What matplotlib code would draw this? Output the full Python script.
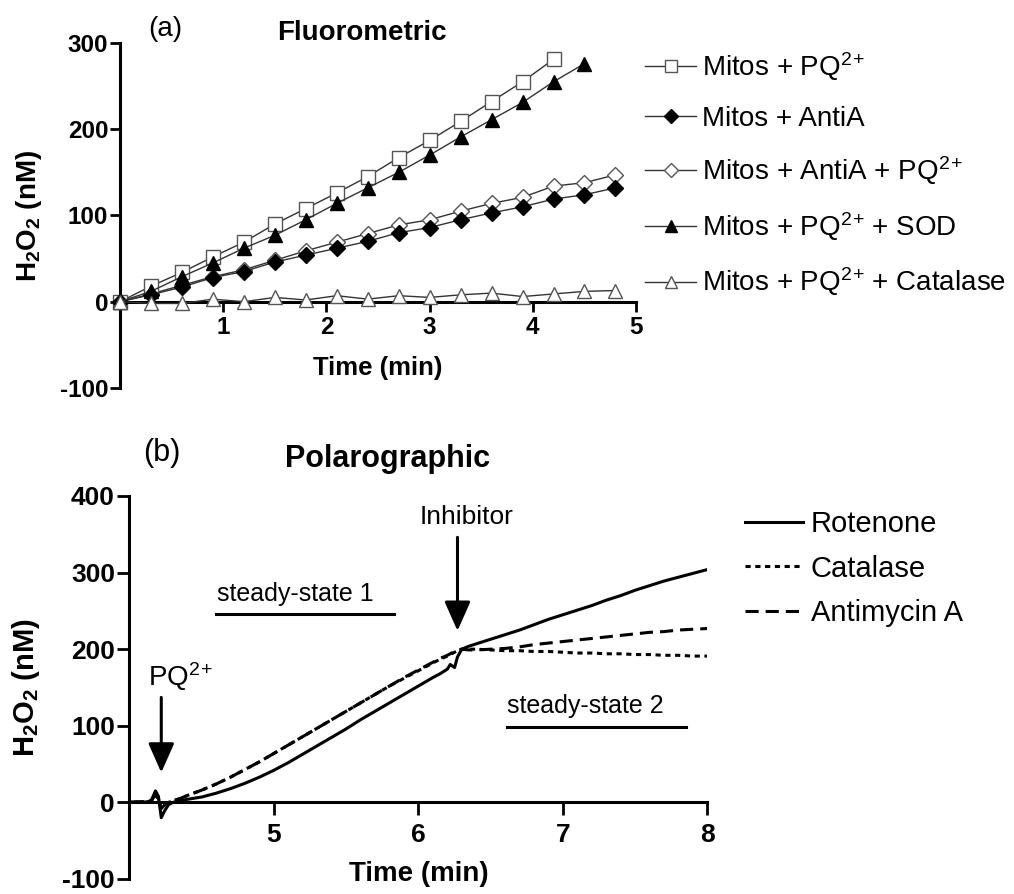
import matplotlib
matplotlib.use("Agg")
from matplotlib import pyplot as plt

plt.rcParams['font.family'] = ['Liberation Sans', 'DejaVu Sans']
plt.rcParams['mathtext.fontset'] = 'custom'
plt.rcParams['mathtext.rm'] = 'Liberation Sans'
plt.rcParams['mathtext.it'] = 'Liberation Sans:italic'
plt.rcParams['mathtext.bf'] = 'Liberation Sans:bold'
plt.rcParams['axes.unicode_minus'] = False

# ---- panel (a): fluorometric, sampled every 0.3 min
t_a = [0.0, 0.3, 0.6, 0.9, 1.2, 1.5, 1.8, 2.1, 2.4, 2.7, 3.0, 3.3, 3.6, 3.9, 4.2, 4.5, 4.8]
pq = [0, 18, 34, 52, 69, 90, 108, 126, 145, 167, 187, 209, 232, 255, 281]
antia = [0, 8, 17, 28, 35, 46, 54, 62, 70, 80, 86, 95, 103, 110, 119, 124, 132]
antia_pq = [0, 9, 19, 29, 37, 48, 59, 69, 79, 89, 95, 105, 114, 121, 134, 138, 147]
pq_sod = [0, 12, 29, 45, 62, 77, 95, 114, 132, 150, 170, 191, 211, 231, 255, 276]
pq_cat = [0, -2, -2, 3, 0, 5, 2, 7, 3, 7, 5, 8, 10, 6, 9, 12, 13]

# ---- panel (b): polarographic traces
t_b = [4.00, 4.05, 4.10, 4.15, 4.18, 4.20, 4.22, 4.24, 4.27, 4.30, 4.35, 4.40,
       4.50, 4.60, 4.70, 4.80, 4.90, 5.00, 5.10, 5.20, 5.30, 5.40, 5.50, 5.60,
       5.70, 5.80, 5.90, 6.00, 6.10, 6.15, 6.20, 6.22, 6.25, 6.27, 6.30, 6.35,
       6.40, 6.50, 6.60, 6.70, 6.80, 6.90, 7.00, 7.10, 7.20, 7.30, 7.40, 7.50,
       7.60, 7.70, 7.80, 7.90, 8.00]
rotenone = [0, 1, 0, 2, 15, 8, -20, -12, -3, 0, 2, 4,
            7, 12, 18, 25, 33, 42, 52, 63, 74, 85, 96, 108,
            119, 130, 141, 152, 163, 168, 174, 180, 176, 190, 200, 204,
            207, 213, 219, 225, 232, 239, 245, 251, 257, 264, 270, 277,
            283, 289, 294, 299, 304]
catalase = [0, 0, 1, 2, 9, 5, -7, -4, 0, 2, 5, 9,
            16, 24, 33, 43, 53, 64, 75, 86, 97, 108, 119, 130,
            141, 152, 162, 172, 182, 187, 191, 193, 196, 198, 200, 200,
            200, 199, 198, 198, 197, 197, 196, 195, 195, 194, 194, 193,
            193, 192, 192, 191, 191]
antimycin = [0, 0, 1, 2, 10, 5, -8, -4, 0, 2, 5, 9,
             16, 24, 33, 43, 53, 64, 75, 86, 97, 108, 119, 130,
             141, 152, 163, 173, 183, 188, 192, 194, 197, 199, 200, 199,
             199, 200, 201, 203, 206, 208, 210, 212, 214, 216, 218, 220,
             222, 223, 225, 226, 227]

PQ = r'PQ$^{2}$$^{+}$'
H2O2 = r'H$_\mathbf{2}$O$_\mathbf{2}$ (nM)'

fig = plt.figure(figsize=(10.14, 8.94), dpi=100)


def style_axes(ax, fs_tick, pad_x, tick_len):
    for s in ['top', 'right']:
        ax.spines[s].set_visible(False)
    ax.spines['bottom'].set_position(('data', 0))
    for s in ['left', 'bottom']:
        ax.spines[s].set_linewidth(2.2)
    ax.tick_params(direction='out', length=tick_len, width=2.0, labelsize=fs_tick)
    ax.tick_params(axis='y', pad=1.5)
    ax.tick_params(axis='x', pad=pad_x)
    for lbl in ax.get_xticklabels() + ax.get_yticklabels():
        lbl.set_fontweight('bold')


# ================= panel (a)
ax1 = fig.add_axes([0.1183, 0.566, 0.509, 0.386])
ax1.set_xlim(0, 5)
ax1.set_ylim(-100, 300)
ax1.set_xticks([1, 2, 3, 4, 5])
ax1.set_yticks([-100, 0, 100, 200, 300])
style_axes(ax1, 17.5, 3.5, 7)

lc = '#333333'
ec = '#555555'
ax1.plot(t_a[:len(pq)], pq, '-', color=lc, lw=1, marker='s', ms=9.5,
         mfc='white', mec=ec, mew=1, clip_on=False, zorder=3,
         label='Mitos + ' + PQ)
ax1.plot(t_a[:len(antia)], antia, '-', color=lc, lw=1, marker='D', ms=8.5,
         mfc='black', mec='black', clip_on=False, zorder=3,
         label='Mitos + AntiA')
ax1.plot(t_a[:len(antia_pq)], antia_pq, '-', color=lc, lw=1, marker='D', ms=8.5,
         mfc='white', mec=ec, mew=1, clip_on=False, zorder=2.5,
         label='Mitos + AntiA + ' + PQ)
ax1.plot(t_a[:len(pq_sod)], pq_sod, '-', color=lc, lw=1, marker='^', ms=10,
         mfc='black', mec='black', clip_on=False, zorder=3,
         label='Mitos + ' + PQ + ' + SOD')
ax1.plot(t_a[:len(pq_cat)], pq_cat, '-', color=lc, lw=1, marker='^', ms=10,
         mfc='white', mec=ec, mew=1, clip_on=False, zorder=3,
         label='Mitos + ' + PQ + ' + Catalase')

ax1.set_xlabel('Time (min)', fontsize=18.5, fontweight='bold', va='center')
ax1.xaxis.set_label_coords(0.5, 0.058)
ax1.set_ylabel(H2O2, fontsize=20, fontweight='bold', va='center')
ax1.yaxis.set_label_coords(-0.176, 0.5)

leg1 = ax1.legend(loc='upper left', bbox_to_anchor=(645 / 1014, 1 - 50 / 894),
                  bbox_transform=fig.transFigure, frameon=False, fontsize=20,
                  numpoints=1, handlelength=1.85, handletextpad=0.2,
                  labelspacing=0.82, borderpad=0, borderaxespad=0,
                  markerscale=0.85)

fig.text(165 / 1014, 1 - 36 / 894, '(a)', fontsize=20, ha='center', va='baseline')
fig.text(362 / 1014, 1 - 40 / 894, 'Fluorometric', fontsize=20, fontweight='bold',
         ha='center', va='baseline')

# ================= panel (b)
ax2 = fig.add_axes([0.1277, 0.0168, 0.570, 0.4284])
ax2.set_xlim(4, 8)
ax2.set_ylim(-100, 400)
ax2.set_xticks([5, 6, 7, 8])
ax2.set_yticks([-100, 0, 100, 200, 300, 400])
style_axes(ax2, 19, 6, 9)

ax2.plot(t_b, catalase, color='black', lw=2.2, ls=(0, (1.7, 1.5)), label='Catalase')
ax2.plot(t_b, antimycin, color='black', lw=2.2, ls=(0, (4.3, 2.3)), label='Antimycin A')
ax2.plot(t_b, rotenone, color='black', lw=2.2, ls='-', label='Rotenone')

h, l = ax2.get_legend_handles_labels()
order = [2, 0, 1]
leg2 = ax2.legend([h[i] for i in order], [l[i] for i in order], loc='upper left',
                  bbox_to_anchor=(745 / 1014, 1 - 510 / 894),
                  bbox_transform=fig.transFigure, frameon=False, fontsize=21,
                  handlelength=2.0, handletextpad=0.25, labelspacing=0.57,
                  borderpad=0, borderaxespad=0)

ax2.set_xlabel('Time (min)', fontsize=20, fontweight='bold', va='center')
ax2.xaxis.set_label_coords(0.5, 0.012)
ax2.set_ylabel(H2O2, fontsize=21, fontweight='bold', va='center')
ax2.yaxis.set_label_coords(-0.179, 0.5)

arrow = dict(arrowstyle='-|>,head_length=0.9,head_width=0.4', color='black',
             lw=2.2, mutation_scale=20, shrinkA=0, shrinkB=0)
ax2.annotate('', xy=(4.22, 39), xytext=(4.22, 137), arrowprops=arrow)
ax2.annotate('', xy=(6.27, 224), xytext=(6.27, 346), arrowprops=arrow)
ax2.text(4.13, 152, PQ, fontsize=20, ha='left', va='baseline')
ax2.text(6.01, 363, 'Inhibitor', fontsize=19, ha='left', va='baseline')
ax2.text(4.605, 263, 'steady-state 1', fontsize=18, ha='left', va='baseline')
ax2.plot([4.60, 5.83], [246, 246], color='black', lw=2.2)
ax2.text(6.61, 117, 'steady-state 2', fontsize=18, ha='left', va='baseline')
ax2.plot([6.61, 7.85], [98, 98], color='black', lw=2.2)

fig.text(162 / 1014, 1 - 461 / 894, '(b)', fontsize=22, ha='center', va='baseline')
fig.text(388 / 1014, 1 - 467 / 894, 'Polarographic', fontsize=22, fontweight='bold',
         ha='center', va='baseline')

fig.savefig('out.png', dpi=100)
